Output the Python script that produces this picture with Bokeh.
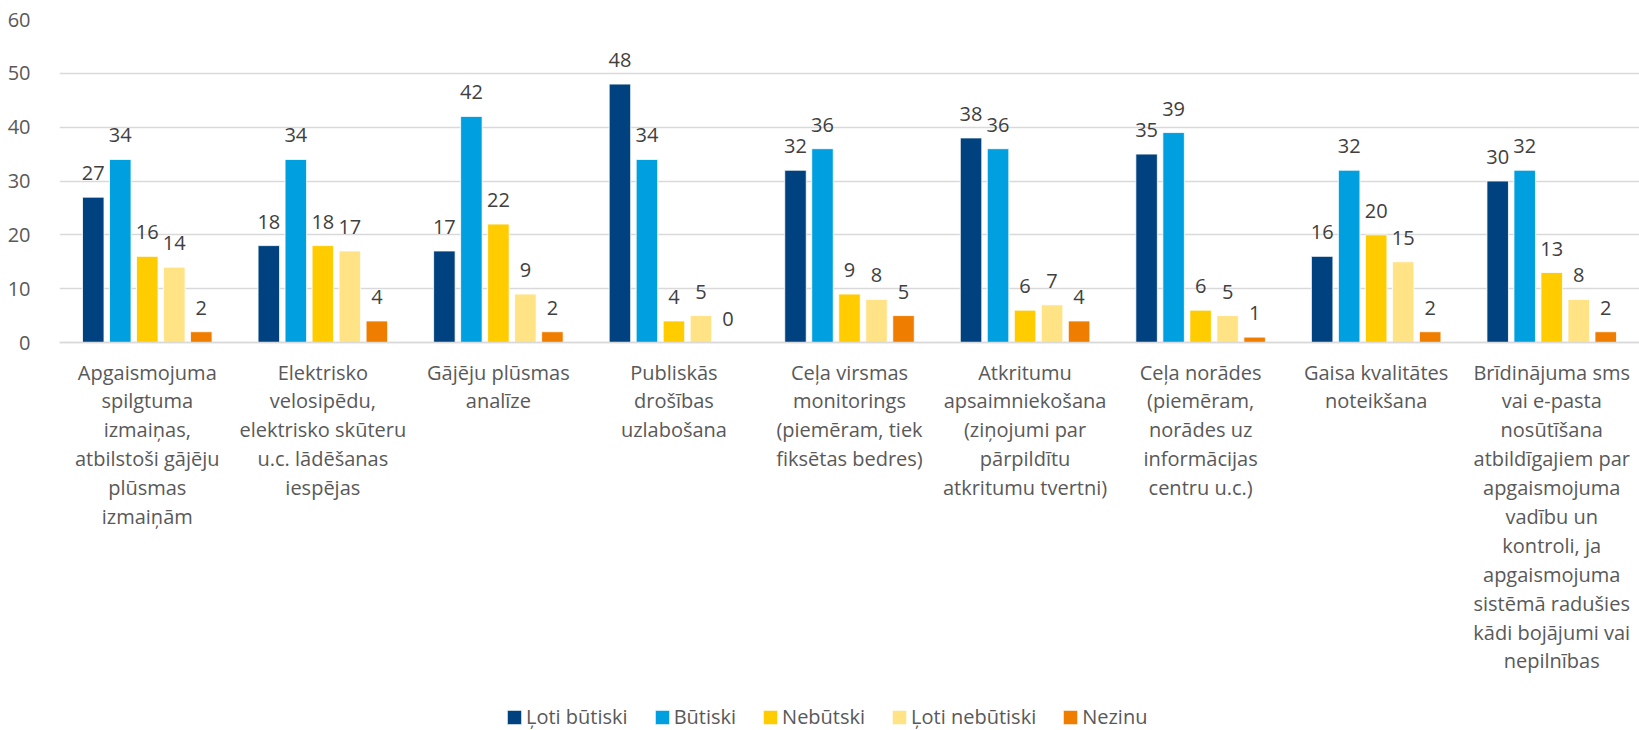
from bokeh.plotting import figure
from bokeh.models import FactorRange, Range1d, Legend, LegendItem, ColumnDataSource, FixedTicker
from bokeh.transform import dodge
from bokeh.core.properties import value
from bokeh.embed import file_html
from bokeh.resources import INLINE

categories = [
    "Apgaismojuma\nspilgtuma\nizmaiņas,\natbilstoši gājēju\nplūsmas\nizmaiņām",
    "Elektrisko\nvelosipēdu,\nelektrisko skūteru\nu.c. lādēšanas\niespējas",
    "Gājēju plūsmas\nanalīze",
    "Publiskās\ndrošības\nuzlabošana",
    "Ceļa virsmas\nmonitorings\n(piemēram, tiek\nfiksētas bedres)",
    "Atkritumu\napsaimniekošana\n(ziņojumi par\npārpildītu\natkritumu tvertni)",
    "Ceļa norādes\n(piemēram,\nnorādes uz\ninformācijas\ncentru u.c.)",
    "Gaisa kvalitātes\nnoteikšana",
    "Brīdinājuma sms\nvai e-pasta\nnosūtīšana\natbildīgajiem par\napgaismojuma\nvadību un\nkontroli, ja\napgaismojuma\nsistēmā radušies\nkādi bojājumi vai\nnepilnības",
]

series_names = ["Ļoti būtiski", "Būtiski", "Nebūtski", "Ļoti nebūtiski", "Nezinu"]
loti_butiski = [27, 18, 17, 48, 32, 38, 35, 16, 30]
butiski = [34, 34, 42, 34, 36, 36, 39, 32, 32]
nebutiski = [16, 18, 22, 4, 9, 6, 6, 20, 13]
loti_nebutiski = [14, 17, 9, 5, 8, 7, 5, 15, 8]
nezinu = [2, 4, 2, 0, 5, 4, 1, 2, 2]
series_values = [loti_butiski, butiski, nebutiski, loti_nebutiski, nezinu]
colors = ["#00427F", "#009FDF", "#FFCC00", "#FFE385", "#EF7D00"]
y_ticks = [0, 10, 20, 30, 40, 50, 60]
y_max = 60

FONT = "Open Sans"
W, H = 1639, 730
TOP = 19          # frame top
ZERO_Y = 342      # pixel row of value 0
px_per_unit = (ZERO_Y - TOP) / y_max
y_min = -(H - ZERO_Y) / px_per_unit   # room below zero for the category labels and legend

data = {"cat": categories}
for i, vals in enumerate(series_values):
    data[f"s{i}"] = vals
    data[f"t{i}"] = [str(v) for v in vals]
src = ColumnDataSource(data)

p = figure(width=W, height=H,
           x_range=FactorRange(factors=categories, range_padding=0),
           y_range=Range1d(y_min, y_max),
           output_backend="svg", toolbar_location=None,
           min_border_left=59, min_border_right=0, min_border_top=TOP, min_border_bottom=0)
p.outline_line_color = None
p.background_fill_color = "white"
p.border_fill_color = "white"

step = 27 / 175.5
bw = 21.5 / 175.5
renderers = []
for i in range(5):
    off = (i - 2) * step
    r = p.vbar(x=dodge("cat", off, range=p.x_range), top=f"s{i}", bottom=0, width=bw, source=src,
               fill_color=colors[i], line_color="white", line_width=0.8)
    renderers.append(r)
    p.text(x=dodge("cat", off, range=p.x_range), y=f"s{i}", text=f"t{i}", source=src,
           y_offset=-24, text_align="center", text_baseline="middle",
           text_font=value(FONT), text_font_size="20px", text_color="#404040")

p.xgrid.grid_line_color = None
p.ygrid.grid_line_color = "#D9D9D9"
p.ygrid.grid_line_width = 1.5
p.yaxis.ticker = FixedTicker(ticks=y_ticks)
p.yaxis.axis_line_color = None
p.yaxis.major_tick_line_color = None
p.yaxis.minor_tick_line_color = None
p.yaxis.major_label_standoff = 23
p.yaxis.major_label_text_font = FONT
p.yaxis.major_label_text_font_size = "20px"
p.yaxis.major_label_text_color = "#595959"

p.xaxis.fixed_location = 0
p.xaxis.axis_line_color = "#D9D9D9"
p.xaxis.axis_line_width = 1.5
p.xaxis.major_tick_line_color = None
p.xaxis.minor_tick_line_color = None
p.xaxis.major_label_standoff = 10
p.xaxis.major_label_text_font = FONT
p.xaxis.major_label_text_font_size = "20px"
p.xaxis.major_label_text_color = "#595959"
p.xaxis.major_label_text_line_height = 1.07
p.xaxis.major_label_orientation = "horizontal"

legend = Legend(items=[LegendItem(label=series_names[i], renderers=[renderers[i]]) for i in range(5)],
                orientation="horizontal", location=(446, 0),
                padding=0, margin=0, spacing=25, label_standoff=3,
                glyph_width=18, glyph_height=18,
                label_text_font=FONT, label_text_font_size="20px", label_text_color="#595959",
                background_fill_alpha=0, border_line_color=None)
p.add_layout(legend)

open("out.html", "w").write(file_html(p, INLINE))
